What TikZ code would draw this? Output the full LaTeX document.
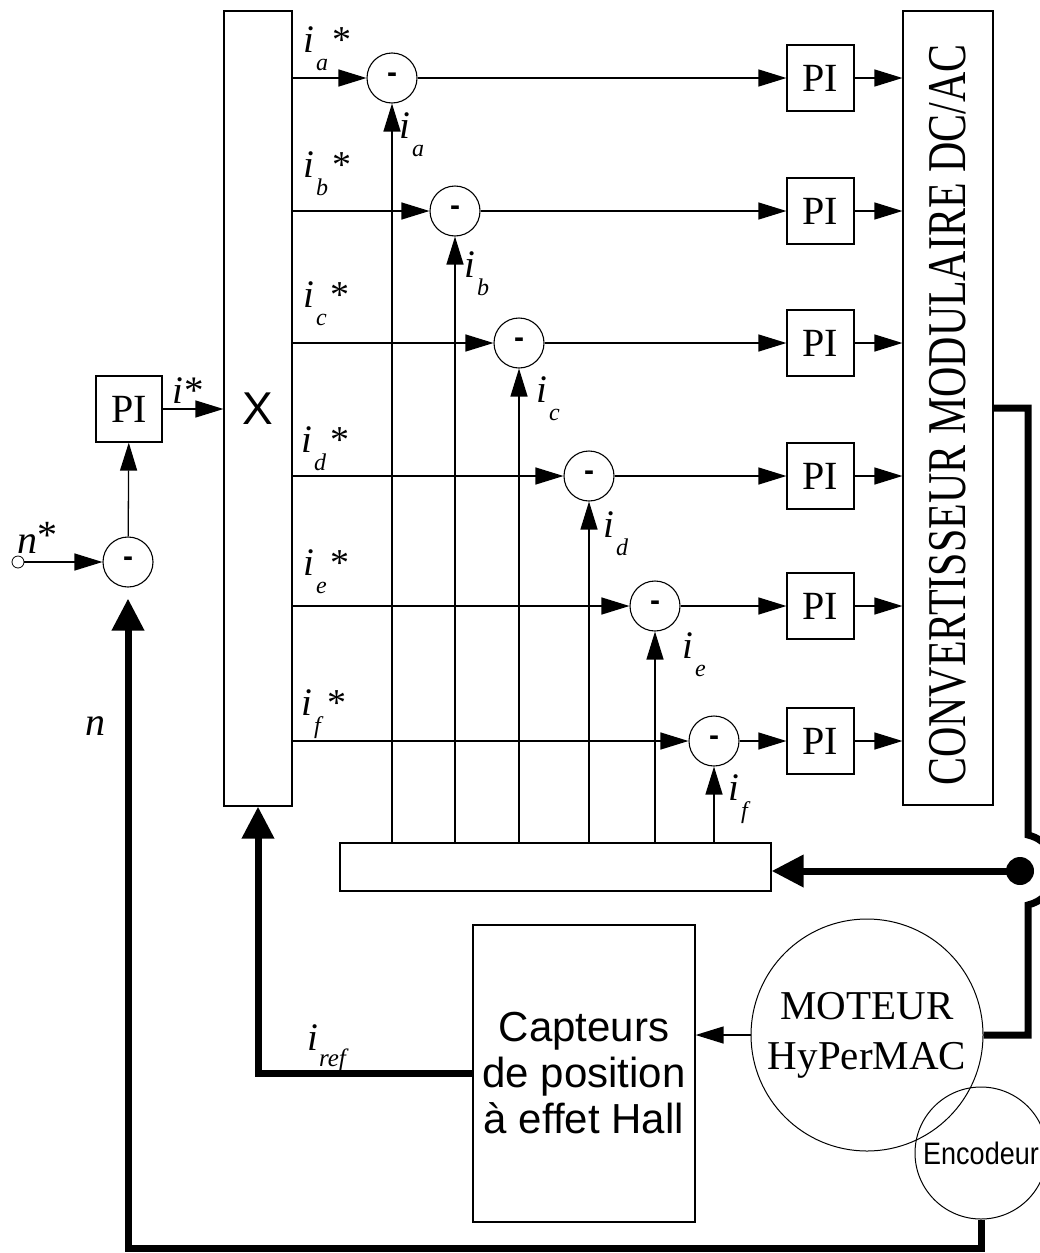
\documentclass[tikz,border=0pt]{standalone}
\usepackage{fontspec}
\setmainfont{Liberation Serif}
\setsansfont{Liberation Sans}
\usetikzlibrary{arrows.meta}
\newcommand\isub[1]{{\fontsize{39}{39}\selectfont\textit{i}}\kern2pt\raisebox{-18pt}{\fontsize{24}{24}\selectfont\textit{#1}}}
\newcommand\istar[1]{\isub{#1}\kern4pt{\fontsize{38}{38}\selectfont *}}
\begin{document}
\begin{tikzpicture}[x=1pt,y=-1pt,
  box/.style={draw, line width=1.2pt, inner sep=0pt},
  pibox/.style={box, minimum width=67pt, minimum height=66pt, font=\fontsize{40}{40}\selectfont},
  sumc/.style={draw, circle, line width=1.1pt, minimum size=50pt, inner sep=0pt, font=\sffamily\bfseries\fontsize{30}{30}\selectfont},
  arr/.style={line width=1.3pt, -{Triangle[length=28pt,width=17pt]}},
  thk/.style={line width=7pt, line join=miter},
  tarr/.style={line width=7pt, line join=miter, -{Triangle[length=32pt,width=31pt]}},
  lbl/.style={inner sep=0pt, anchor=base west}]
\useasboundingbox (0,0) rectangle (1039,1253);

% main blocks
\node[box, minimum width=68pt, minimum height=795pt, font=\sffamily\fontsize{46}{46}\selectfont] (X) at (258,408.5) {X};
\node[box, minimum width=90pt, minimum height=794pt] (conv) at (948,408) {};
\node[rotate=90, inner sep=0pt, font=\fontsize{42}{42}\selectfont] (convtext) at (948,415) {\scalebox{1}[1.3]{CONVERTISSEUR MODULAIRE DC/AC}};
\node[box, minimum width=431pt, minimum height=48pt] (B) at (555.5,867) {};

% rows
\foreach \n/\y/\cx in {a/78/392, b/211/455, c/343/519, d/476/589, e/606/655, f/741/714} {
  \node[sumc] (s\n) at (\cx,\y) {-};
  \node[pibox] (p\n) at (820.5,\y) {PI};
  \draw[arr] (X.east |- s\n) -- (s\n.west);
  \draw[arr] (s\n.east) -- (p\n.west);
  \draw[arr] (p\n.east) -- (p\n.east -| conv.west);
  \draw[arr] (B.north -| s\n) -- (s\n.south);
}

% reference labels
\node[lbl] (la) at (303,52) {\istar{a}};
\node[lbl] (lb) at (303,177) {\istar{b}};
\node[lbl] (lc) at (303,307) {\istar{c}};
\node[lbl] (ld) at (301,452) {\istar{d}};
\node[lbl] (le) at (303,575) {\istar{e}};
\node[lbl] (lf) at (301,715) {\istar{f}};
% measured labels
\node[lbl] (ma) at (399,138) {\isub{a}};
\node[lbl] (mb) at (464,277) {\isub{b}};
\node[lbl] (mc) at (536,402) {\isub{c}};
\node[lbl] (md) at (603,537) {\isub{d}};
\node[lbl] (me) at (682,658) {\isub{e}};
\node[lbl] (mf) at (728,800) {\isub{f}};

% speed loop
\node[pibox, minimum width=66pt] (pl) at (129,409) {PI};
\node[sumc] (sn) at (128,562) {-};
\node[circle, draw, line width=0.8pt, minimum size=12pt, inner sep=0pt] (nin) at (18,562) {};
\draw[arr] (nin) -- (sn);
\draw[arr] (sn) -- (pl);
\draw[arr] (pl.east) -- (pl.east -| X.west);
\node[lbl] (listar) at (172,403) {\fontsize{39}{39}\selectfont\textit{i}\kern1pt*};
\node[lbl] (lnstar) at (17,553) {\fontsize{40}{40}\selectfont\textit{n}\raisebox{5pt}{*}};
\node[lbl] (ln) at (85,735) {\fontsize{40}{40}\selectfont\textit{n}};

% motor side
\node[box, minimum width=222pt, minimum height=297pt, align=center, font=\sffamily\fontsize{42}{46}\selectfont] (C) at (584,1073.5) {Capteurs\\de position\\ à effet Hall};
\node[circle, draw, line width=1pt, minimum size=232pt, inner sep=0pt, align=center, font=\fontsize{41}{50}\selectfont] (M) at (867,1035) {MOTEUR\\HyPerMAC};
\node[circle, draw, line width=1pt, minimum size=132pt, inner sep=0pt, font=\sffamily\fontsize{27}{27}\selectfont] (E) at (981,1153) {\scalebox{1}[1.15]{Encodeur}};
\node[circle, fill, minimum size=28pt, inner sep=0pt] (dot) at (1020,871) {};

\draw[arr] (M.west) -- (M.west -| C.east);
\draw[thk] (conv.east) -- (1028,408) -- (1028,835) arc[start angle=-77, end angle=77, radius=35.9] -- (1028,1035) -- (M.east);
\draw[tarr] (dot.center) -- (dot.center -| B.east);
\draw[tarr] (C.west) -| (X.south);
\node[lbl] (lref) at (307,1050) {{\fontsize{39}{39}\selectfont\textit{i}}\kern1pt\raisebox{-16pt}{\fontsize{25}{25}\selectfont\textit{ref}}};
\draw[tarr, shorten >=11pt] (E.south) -- ++(0,29) -| (sn.south);
\end{tikzpicture}
\end{document}
